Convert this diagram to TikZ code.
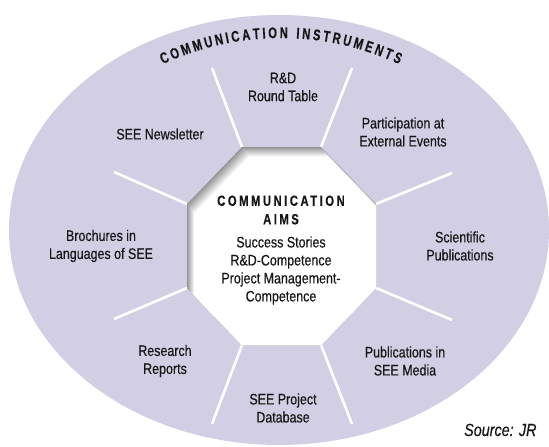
\documentclass[tikz,border=0pt]{standalone}
\usepackage{fontspec}
\setmainfont{Liberation Sans}[FakeStretch=0.82,FakeBold=0.4]
\newfontfamily\titlefont{Liberation Sans}[FakeStretch=0.72,FakeBold=0.3]
\newfontfamily\aimsfont{Liberation Sans}[FakeStretch=0.76,LetterSpace=17,FakeBold=0.3]
\definecolor{lav}{RGB}{210,207,229}
\definecolor{ink}{RGB}{22,22,22}
\newcommand\octat[2]{(242+#1,147+#2) -- (321+#1,147+#2) -- (376+#1,204+#2) -- (376+#1,288+#2) -- (321+#1,345+#2) -- (242+#1,345+#2) -- (187+#1,288+#2) -- (187+#1,204+#2) -- cycle}
\begin{document}
\begin{tikzpicture}[x=1pt,y=-1pt,
  lbl/.style={align=center, font=\fontsize{15.2}{18}\selectfont, text=ink, inner sep=0pt},
  aimstitle/.style={align=center, font=\aimsfont\bfseries\fontsize{14.8}{18.5}\selectfont, text=ink, inner sep=0pt},
  arcchar/.style={font=\titlefont\bfseries\fontsize{15.5}{16}\selectfont, text=ink, inner sep=0pt, anchor=base},
  spoke/.style={draw=white, line width=2.6pt},
  src/.style={font=\itshape\fontsize{17.5}{20}\selectfont, text=ink, inner sep=0pt, anchor=base west}]
\useasboundingbox (0,0) rectangle (549,447);
\clip (0,0) rectangle (549,447);
\fill[lav] (279,230) ellipse [x radius=270pt, y radius=215pt];
% octagon vertices
\coordinate (v1) at (242,147);
\coordinate (v2) at (321,147);
\coordinate (v3) at (376,204);
\coordinate (v4) at (376,288);
\coordinate (v5) at (321,345);
\coordinate (v6) at (242,345);
\coordinate (v7) at (187,288);
\coordinate (v8) at (187,204);
% spoke ends
\coordinate (e1) at (212,68);
\coordinate (e2) at (352,68);
\coordinate (e3) at (452,173);
\coordinate (e4) at (452,320);
\coordinate (e5) at (352,424);
\coordinate (e6) at (212,424);
\coordinate (e7) at (114,319);
\coordinate (e8) at (114,172);
\foreach \i in {1,...,8} \draw[spoke] (v\i) -- (e\i);
% octagon with inner shadow
\begin{scope}
\clip \octat{0}{0};
\foreach \i in {0,...,12}{
  \pgfmathsetmacro\c{42-42*\i/12}
  \fill[black!\c] \octat{\i*0.6}{\i*0.8};
}
\end{scope}
% arc title, letter by letter
\coordinate (arcc) at (281,317);
\foreach \ch/\c [count=\k] in {C/4.05, O/15.05, M/26.67, M/38.60, U/49.91, N/60.60, I/68.80, C/77.00, A/87.69, T/97.75, I/105.33, O/113.84, N/124.84, I/138.75, N/146.95, S/157.33, T/167.08, R/177.15, U/187.84, M/199.15, E/210.15, N/220.53, T/230.59, S/240.35}
  \path (arcc) ++({90-(\c-122.04)*0.20536}:279pt) node[arcchar, rotate={-(\c-122.04)*0.20536}] (t\k) {\ch};
% labels
\node[lbl] (n1) at (283,87) {R\&D\\Round Table};
\node[lbl] (n2) at (403,132) {Participation at\\External Events};
\node[lbl] (n3) at (460,246) {Scientific\\Publications};
\node[lbl] (n4) at (405,361) {Publications in\\SEE Media};
\node[lbl] (n5) at (283,408) {SEE Project\\Database};
\node[lbl] (n6) at (165,361) {Research\\Reports};
\node[lbl] (n7) at (101,246) {Brochures in\\Languages of SEE};
\node[lbl] (n8) at (160,134) {SEE Newsletter};
% centre
\node[aimstitle] (aims) at (281,210) {COMMUNICATION\\AIMS};
\node[lbl] (aimsbody) at (281,270.5) {Success Stories\\R\&D-Competence\\Project Management-\\Competence};
\node[src] (source) at (464,436) {Source: JR};
\end{tikzpicture}
\end{document}
